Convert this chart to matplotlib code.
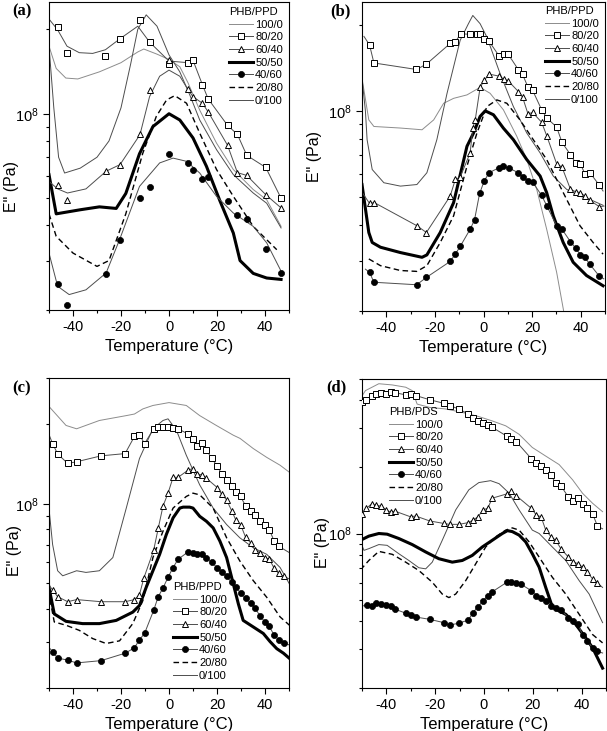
import numpy as np
import matplotlib
matplotlib.use("Agg")
import matplotlib.pyplot as plt
from matplotlib.lines import Line2D
from matplotlib.ticker import FixedLocator, FixedFormatter, LogLocator, NullFormatter, MultipleLocator

plt.rcParams['font.family'] = ['Liberation Sans', 'DejaVu Sans']
plt.rcParams['axes.unicode_minus'] = False

# temperatures in degC, E'' in units of 1e8 Pa

# ---- panel (a) ----
a100_t = [-50, -47, -43, -38, -29, -20, -13, -10.5, -5, 0, 4.5, 7.9, 12.8, 19.8, 26.8, 35.1, 40.7, 46.7]
a100_e = [1.74, 1.45, 1.34, 1.33, 1.41, 1.52, 1.66, 1.70, 1.63, 1.56, 1.47, 1.29, 1.03, 0.786, 0.633, 0.537, 0.494, 0.397]
a80_t = [-50.3, -46.4, -42.5, -37.4, -31.8, -26.5, -20.4, -13, -8.1, 0, 7.9, 10, 13.9, 16.3, 24.4, 28.5, 32.4, 40.3, 46.7]
a80_e = [2.19, 1.99, 1.74, 1.65, 1.64, 1.69, 1.85, 2.05, 1.80, 1.54, 1.52, 1.55, 1.27, 1.13, 0.909, 0.844, 0.711, 0.644, 0.50]
a80m_t = [-46.4, -42.5, -26.5, -20.4, -12.1, -8.1, 0, 7.9, 10, 13.9, 16.3, 24.4, 28.5, 32.4, 40.3, 46.7]
a80m_e = [2.03, 1.65, 1.60, 1.85, 2.15, 1.80, 1.50, 1.52, 1.55, 1.27, 1.13, 0.909, 0.844, 0.711, 0.644, 0.50]
a60_t = [-50, -46.4, -42.3, -34.6, -26.2, -20.4, -12.1, -8.1, -3.9, 0, 4.5, 7.9, 10, 13.9, 16.3, 24.4, 28.5, 32.4, 40.3, 46.7]
a60_e = [0.574, 0.54, 0.522, 0.54, 0.624, 0.659, 0.842, 1.15, 1.36, 1.43, 1.36, 1.22, 1.15, 1.09, 1.016, 0.772, 0.617, 0.603, 0.515, 0.462]
a60m_t = [-46.4, -42.3, -26.2, -20.4, -12.1, -8.1, 0, 7.9, 10, 13.9, 16.3, 24.4, 28.5, 32.4, 40.3, 46.7]
a60m_e = [0.559, 0.494, 0.624, 0.659, 0.844, 1.21, 1.56, 1.22, 1.15, 1.09, 1.016, 0.772, 0.617, 0.603, 0.515, 0.462]
a50_t = [-50, -47, -37, -29, -22, -18, -12.3, -6.7, 0, 4.5, 10, 15.6, 21.2, 26.8, 29.6, 35.1, 40.7, 46.7]
a50_e = [0.607, 0.44, 0.455, 0.466, 0.46, 0.52, 0.72, 0.90, 1.0, 0.95, 0.82, 0.65, 0.49, 0.376, 0.30, 0.27, 0.26, 0.257]
a40_t = [-50, -46.4, -41.6, -34.6, -26.2, -20.6, -12.3, -3.9, 1.7, 7.3, 12.8, 19.8, 26.8, 35.1, 40.7, 46.7]
a40_e = [0.319, 0.243, 0.227, 0.236, 0.271, 0.356, 0.551, 0.668, 0.695, 0.677, 0.615, 0.508, 0.443, 0.397, 0.347, 0.275]
a40m_t = [-46.2, -42.3, -26.2, -20.4, -12.1, -8.1, 0, 7.9, 10, 13.9, 16.3, 24.4, 28.5, 32.4, 40.3, 46.7]
a40m_e = [0.248, 0.209, 0.269, 0.354, 0.50, 0.55, 0.72, 0.668, 0.633, 0.585, 0.597, 0.488, 0.437, 0.423, 0.331, 0.271]
a20_t = [-50, -47, -40, -30, -25, -18, -11, -5.3, -1, 2.4, 7.3, 12.8, 19.8, 26.8, 35.1, 44.9]
a20_e = [0.44, 0.366, 0.319, 0.286, 0.30, 0.44, 0.72, 0.978, 1.12, 1.16, 1.09, 0.853, 0.633, 0.508, 0.397, 0.328]
a0_t = [-50, -48, -46, -43.5, -37, -30, -25, -20, -16, -13, -9.5, -5, 0, 4.5, 8.6, 12.8, 19.8, 26.8, 35.1, 40.7, 46.7]
a0_e = [1.74, 1.05, 0.70, 0.615, 0.64, 0.70, 0.80, 1.05, 1.50, 2.0, 2.25, 2.05, 1.62, 1.41, 1.17, 0.95, 0.745, 0.607, 0.522, 0.48, 0.392]

# ---- panel (b) ----
b100_t = [-50, -48.6, -47.2, -45.1, -34.2, -25.3, -20.5, -16.4, -12.3, -6.8, -1.4, 2.7, 8.2, 13.7, 17.8, 21.9, 26, 30.1, 32.8, 34.2]
b100_e = [1.30, 1.10, 0.93, 0.882, 0.871, 0.859, 0.93, 1.063, 1.106, 1.137, 1.208, 1.152, 1.008, 0.815, 0.676, 0.532, 0.386, 0.273, 0.204, 0.174]
b80_t = [-49.2, -46.9, -45.1, -27.6, -23.5, -13.7, -11.6, -9.4, -5.5, -2.7, -1.4, 0.4, 2.3, 6.3, 8.5, 10.1, 14.4, 16.1, 18.3, 20.2,
         23.9, 26.1, 30.1, 32.3, 35.8, 37.9, 39.9, 41.7, 43.8, 47.6, 49.2]
b80_e = [1.82, 1.70, 1.47, 1.395, 1.456, 1.72, 1.74, 1.86, 1.85, 1.86, 1.85, 1.78, 1.75, 1.56, 1.58, 1.58, 1.39, 1.34, 1.21, 1.18,
         1.01, 0.943, 0.878, 0.776, 0.703, 0.658, 0.651, 0.604, 0.608, 0.551, 0.525]
b60_t = [-50, -46.9, -44.9, -27.4, -23.5, -13.7, -11.6, -9.6, -5.5, -4.4, -3.4, -1.4, 0.4, 2.3, 6.3, 8.5, 10.1, 14.4, 16.1, 18.3,
         20.2, 23.9, 26.1, 30.1, 32.3, 35.8, 37.9, 39.9, 41.7, 43.8, 47.6, 49.6]
b60_e = [0.52, 0.475, 0.478, 0.397, 0.376, 0.504, 0.576, 0.587, 0.713, 0.871, 0.93, 1.208, 1.281, 1.344, 1.323, 1.288, 1.274, 1.167,
         1.115, 0.976, 0.987, 0.913, 0.815, 0.653, 0.636, 0.532, 0.522, 0.518, 0.504, 0.487, 0.463, 0.465]
b50_t = [-50, -47.2, -45.8, -42.4, -34.2, -25.3, -23.3, -17.8, -12.3, -6.8, -4.1, -1.4, 0.7, 4.1, 8.2, 12.3, 17.8, 23.3, 26, 28.7,
         32.8, 36.9, 42.4, 49.2]
b50_e = [0.553, 0.376, 0.347, 0.334, 0.32, 0.308, 0.314, 0.376, 0.478, 0.752, 0.837, 0.956, 1.0, 0.969, 0.87, 0.793, 0.676, 0.592,
         0.518, 0.43, 0.347, 0.296, 0.266, 0.245]
b40_t = [-48.6, -46.9, -45.1, -27.5, -23.5, -13.7, -11.6, -9.6, -5.5, -3.7, -1.6, 0.3, 2.3, 6.2, 8.2, 10.3, 14.4, 16.1, 18.3, 20.2,
         23.9, 26.1, 30.1, 32.3, 35.8, 38.0, 39.9, 41.7, 43.8, 47.6, 49.5]
b40_e = [0.28, 0.273, 0.252, 0.247, 0.262, 0.298, 0.316, 0.336, 0.386, 0.416, 0.515, 0.569, 0.608, 0.632, 0.641, 0.632, 0.608, 0.589,
         0.569, 0.564, 0.507, 0.465, 0.397, 0.386, 0.349, 0.331, 0.314, 0.308, 0.291, 0.265, 0.259]
b20_t = [-47.2, -42.4, -34.2, -27.4, -23.3, -17.8, -12.3, -6.8, -2.7, 1.4, 5.5, 9.6, 15, 20.5, 26, 30.1, 34.2, 39.7, 45.1, 49.2]
b20_e = [0.304, 0.288, 0.277, 0.275, 0.288, 0.347, 0.43, 0.641, 0.837, 1.035, 1.092, 1.063, 0.93, 0.793, 0.676, 0.576, 0.491, 0.397,
         0.347, 0.316]
b0_t = [-50, -48.6, -47.9, -45.8, -41, -34.2, -27.4, -23.3, -19.2, -15, -9.6, -6.2, -4.4, -1.4, 1.4, 6.8, 12.3, 17.8, 23.3, 28.7,
        34.2, 39.7, 45.1, 49.2]
b0_e = [1.30, 1.0, 0.793, 0.624, 0.561, 0.546, 0.553, 0.608, 0.793, 1.152, 1.764, 2.016, 2.154, 2.016, 1.81, 1.351, 1.035, 0.837,
        0.713, 0.592, 0.532, 0.504, 0.485, 0.468]

# ---- panel (c) ----
c100_t = [-50.3, -42.9, -38.5, -29, -17.8, -14.4, -10.9, -6.7, 0, 7.2, 12.8, 19.8, 26.8, 29.6, 35.1, 40.7, 46.3, 50]
c100_e = [2.356, 1.982, 1.925, 2.07, 2.16, 2.19, 2.29, 2.36, 2.42, 2.36, 2.16, 1.98, 1.82, 1.77, 1.62, 1.50, 1.40, 1.32]
c80_t = [-50.3, -48.5, -46.4, -42.2, -38.5, -28.3, -18.3, -14.4, -12.3, -10.2, -6.4, -4.5, -2.5, -0.4, 1.7, 3.8, 7.9, 9.8, 11.7,
         13.7, 15.6, 17.8, 20.1, 21.9, 24, 26.1, 27.9, 29.8, 31.9, 34, 36, 37.9, 40, 41.8, 43.8, 45.7, 50.2]
c80_e = [1.86, 1.69, 1.546, 1.422, 1.443, 1.52, 1.55, 1.80, 1.83, 1.69, 1.925, 1.95, 1.96, 1.95, 1.94, 1.925, 1.84, 1.766, 1.66,
         1.70, 1.60, 1.485, 1.39, 1.30, 1.23, 1.17, 1.113, 1.066, 0.983, 0.936, 0.909, 0.858, 0.829, 0.798, 0.722, 0.69, 0.652]
c60_t = [-50.3, -48.5, -46.4, -42.2, -38.5, -28.3, -18.3, -14.4, -12.3, -10.5, -6.4, -4.5, -2.5, -0.4, 1.7, 3.8, 7.9, 9.8, 11.7,
         13.7, 15.6, 20.1, 21.9, 24, 26.1, 27.9, 29.8, 31.9, 34, 36, 37.9, 40, 41.8, 43.8, 45.7, 47.9, 50.2]
c60_e = [0.496, 0.471, 0.444, 0.425, 0.433, 0.425, 0.425, 0.433, 0.452, 0.522, 0.666, 0.806, 0.98, 1.097, 1.26, 1.26, 1.34, 1.36,
         1.30, 1.285, 1.249, 1.152, 1.087, 1.035, 0.941, 0.866, 0.834, 0.747, 0.711, 0.666, 0.653, 0.625, 0.616, 0.570, 0.544, 0.53, 0.518]
c50_t = [-50.3, -47.8, -42.9, -36, -29, -22, -15.1, -12.3, -9.5, -6.7, -3.9, -1.1, 1.7, 4.5, 5.9, 8.6, 10, 12.8, 15.6, 18.4, 21.2,
         24, 26.8, 28.9, 30.9, 35.1, 39.3, 42.1, 44.9, 47.7, 50.2]
c50_e = [0.496, 0.382, 0.358, 0.351, 0.351, 0.361, 0.388, 0.411, 0.482, 0.557, 0.643, 0.765, 0.884, 0.963, 0.971, 0.971, 0.963,
         0.896, 0.858, 0.81, 0.722, 0.625, 0.496, 0.417, 0.361, 0.341, 0.322, 0.30, 0.282, 0.271, 0.259]
c40_t = [-50.3, -48.5, -46.4, -42.2, -38.5, -28.3, -18.3, -14.4, -12.3, -10.2, -6.4, -4.5, -2.5, -0.4, 1.7, 3.8, 7.9, 9.8, 11.7,
         13.7, 15.6, 17.8, 20.1, 21.9, 24, 26.1, 27.9, 29.8, 31.9, 34, 36, 37.9, 40, 41.8, 43.8, 45.7, 47.9, 50.2]
c40_e = [0.287, 0.275, 0.26, 0.255, 0.249, 0.254, 0.271, 0.284, 0.305, 0.322, 0.394, 0.444, 0.479, 0.526, 0.573, 0.616, 0.656,
         0.649, 0.647, 0.647, 0.621, 0.602, 0.57, 0.553, 0.53, 0.503, 0.482, 0.459, 0.439, 0.42, 0.401, 0.375, 0.356, 0.343, 0.317,
         0.305, 0.297, 0.291]
c20_t = [-50.3, -47.8, -42.9, -37.4, -31.8, -26.2, -20.6, -15.1, -10.9, -6.7, -2.5, 1.7, 7.2, 10, 12.8, 18.4, 24, 29.5, 35.1, 40.7,
         46.3, 50.2]
c20_e = [0.468, 0.356, 0.346, 0.331, 0.308, 0.295, 0.302, 0.351, 0.429, 0.625, 0.787, 0.963, 1.066, 1.097, 1.081, 0.963, 0.743,
         0.607, 0.511, 0.442, 0.372, 0.346]
c0_t = [-50.3, -48.5, -46.4, -44.3, -38.5, -34.6, -29, -23.4, -17.8, -12.3, -6.7, -2.5, -0.4, 3.1, 7.2, 12.8, 18.4, 24, 29.5, 35.1,
        40.7, 46.3, 50.2]
c0_e = [1.02, 0.701, 0.557, 0.533, 0.557, 0.549, 0.557, 0.625, 0.963, 1.485, 1.925, 2.07, 2.10, 1.90, 1.528, 1.179, 0.963, 0.834,
        0.743, 0.681, 0.643, 0.573, 0.496]

# ---- panel (d) ----
d100_t = [-50.6, -48.6, -43.1, -37.6, -32.1, -29.4, -27.4, -22.3, -15.7, -8.9, -2.1, 3.4, 8.9, 14.4, 19.8, 25.3, 30.8, 36.3, 40.4,
          44.5, 48.6]
d100_e = [4.09, 4.43, 4.76, 4.70, 4.59, 4.43, 3.85, 3.72, 3.66, 3.53, 3.38, 3.23, 3.07, 2.81, 2.45, 2.24, 2.05, 1.75, 1.52, 1.37, 1.255]
d80_t = [-50.6, -49.9, -48.2, -46.1, -44.2, -42.1, -40.1, -38.3, -36.3, -32.1, -30.1, -28, -22.3, -16.4, -14.1, -10.3, -6.4, -4.5,
         -2.5, -0.3, 1.5, 3.4, 9.3, 11.2, 13.3, 19.4, 21.5, 23.4, 25.3, 27.5, 29.4, 31.5, 34.6, 36.5, 38.6, 40.4, 42.4, 44.5, 46.5, 48.6]
d80_e = [3.86, 3.92, 4.03, 4.21, 4.28, 4.33, 4.27, 4.36, 4.33, 4.24, 4.26, 4.21, 4.03, 3.88, 3.79, 3.66, 3.47, 3.32, 3.24, 3.15,
         3.09, 3.02, 2.76, 2.69, 2.60, 2.18, 2.09, 2.02, 1.93, 1.83, 1.69, 1.645, 1.46, 1.40, 1.445, 1.356, 1.30, 1.23, 1.08, 1.05]
d60_t = [-50.6, -49.9, -48.2, -46.1, -44.2, -42.1, -40.1, -38.3, -36.3, -30.1, -28, -22.3, -16.4, -14.1, -10.3, -6.4, -4.5, -2.5,
         -0.3, 1.5, 3.4, 9.3, 11.2, 13.3, 19.4, 21.5, 23.4, 25.3, 27.5, 29.4, 31.5, 34.6, 36.5, 38.6, 40.4, 42.4, 44.5, 46.5, 48.6]
d60_e = [1.21, 1.225, 1.30, 1.36, 1.34, 1.33, 1.28, 1.25, 1.26, 1.19, 1.20, 1.14, 1.11, 1.10, 1.10, 1.12, 1.15, 1.19, 1.28, 1.30,
         1.445, 1.51, 1.55, 1.48, 1.30, 1.21, 1.19, 1.036, 0.966, 0.932, 0.854, 0.782, 0.745, 0.729, 0.704, 0.668, 0.623, 0.597, 0.57]
d50_t = [-50.6, -47.2, -43.1, -39.7, -34.9, -29.4, -23.9, -18.5, -13, -8.9, -4.8, -0.7, 3.4, 7.5, 9.6, 11.6, 14.4, 17.1, 19.8, 22.6,
         25.3, 28.0, 30.8, 33.5, 37.6, 41.7, 44.5, 48.6]
d50_e = [0.932, 0.973, 1.0, 0.993, 0.949, 0.891, 0.825, 0.769, 0.742, 0.755, 0.796, 0.869, 0.932, 1.0, 1.03, 1.02, 0.983, 0.916,
         0.81, 0.704, 0.57, 0.466, 0.446, 0.431, 0.388, 0.337, 0.304, 0.246]
d40_t = [-49.9, -47.9, -46.1, -44.2, -42.1, -40.1, -38.3, -36.3, -32.1, -30.1, -28, -22.3, -16.4, -14.1, -10.3, -6.4, -4.5, -2.5,
         -0.3, 1.5, 3.4, 9.3, 11.2, 13.3, 15, 19.4, 21.5, 23.4, 25.3, 27.5, 29.4, 31.5, 34.6, 36.5, 38.6, 40.4, 42.4, 44.5, 46.5, 48.6]
d40_e = [0.47, 0.474, 0.468, 0.486, 0.479, 0.474, 0.47, 0.454, 0.436, 0.428, 0.419, 0.409, 0.395, 0.385, 0.393, 0.406, 0.439, 0.466,
         0.496, 0.523, 0.545, 0.601, 0.601, 0.597, 0.591, 0.551, 0.521, 0.51, 0.496, 0.471, 0.46, 0.452, 0.416, 0.402, 0.388, 0.347,
         0.326, 0.304, 0.293, 0.288]
d20_t = [-50.6, -47.2, -43.1, -37.6, -32.1, -26.7, -21.2, -17.1, -14.4, -11.6, -7.5, -3.4, 0.7, 4.8, 8.9, 11.6, 14.4, 18.5, 22.6,
         28, 33.5, 39, 44.5, 48.6]
d20_e = [0.685, 0.755, 0.83, 0.805, 0.742, 0.68, 0.602, 0.532, 0.513, 0.532, 0.612, 0.729, 0.869, 0.966, 1.036, 1.06, 1.036, 0.916,
         0.782, 0.634, 0.532, 0.431, 0.349, 0.32]
d0_t = [-50.6, -49.2, -47.2, -43.1, -39.7, -34.9, -30.8, -26.7, -23.9, -21.2, -17.1, -11.6, -6.2, -2.1, 2.7, 6.2, 10.3, 14.4, 19.8,
        22.6, 28, 33.5, 39, 43.1, 48.6]
d0_e = [0.916, 0.839, 0.854, 0.891, 0.884, 0.81, 0.755, 0.70, 0.692, 0.742, 0.932, 1.278, 1.577, 1.70, 1.734, 1.68, 1.522, 1.278,
        1.036, 1.0, 0.869, 0.755, 0.612, 0.532, 0.395]

ratios = ['100/0', '80/20', '60/40', '50/50', '40/60', '20/80', '0/100']
styles = {
    '100/0': dict(color='0.55', lw=0.7),
    '80/20': dict(color='0.3', lw=0.7, marker='s', mfc='white', mec='black', ms=4.6, mew=0.7),
    '60/40': dict(color='0.3', lw=0.7, marker='^', mfc='white', mec='black', ms=5.0, mew=0.7),
    '50/50': dict(color='black', lw=2.2),
    '40/60': dict(color='0.3', lw=0.7, marker='o', mfc='black', mec='black', ms=4.4, mew=0.5),
    '20/80': dict(color='black', lw=1.0, ls=(0, (4, 2.5))),
    '0/100': dict(color='0.3', lw=0.7),
}

W, H = 607, 731
fig = plt.figure(figsize=(W / 100, H / 100), dpi=100)


def add_ax(l, t, r, b):
    return fig.add_axes([l / W, 1 - b / H, (r - l) / W, (b - t) / H])


def line_only(ax, key, t, e):
    st = {k: v for k, v in styles[key].items() if k not in ('marker', 'mfc', 'mec', 'ms', 'mew')}
    ax.plot(t, np.array(e) * 1e8, zorder=2, **st)


def marks(ax, key, t, e):
    st = styles[key]
    ax.plot(t, np.array(e) * 1e8, ls='none', marker=st['marker'], mfc=st['mfc'], mec=st['mec'],
            ms=st['ms'], mew=st['mew'], zorder=3)


def setup(ax, ylim, ylab_xy, title, leg_xy, letter, letter_xy):
    ax.set_yscale('log')
    ax.set_xlim(-50, 50)
    ax.set_ylim(ylim[0] * 1e8, ylim[1] * 1e8)
    ax.xaxis.set_major_locator(MultipleLocator(20))
    ax.xaxis.set_minor_locator(MultipleLocator(10))
    ax.yaxis.set_major_locator(FixedLocator([1e8]))
    ax.yaxis.set_major_formatter(FixedFormatter([r'$\mathregular{10^8}$']))
    ax.yaxis.set_minor_locator(LogLocator(base=10, subs=np.arange(2, 10)))
    ax.yaxis.set_minor_formatter(NullFormatter())
    ax.tick_params(which='both', direction='out', width=0.8, labelsize=10.5, top=False, right=False)
    ax.tick_params(which='major', length=4)
    ax.tick_params(which='minor', length=2.5)
    for s in ax.spines.values():
        s.set_linewidth(0.8)
    ax.set_xlabel('Temperature (\u00b0C)', fontsize=12, labelpad=3)
    ax.set_ylabel('E" (Pa)', fontsize=11.5)
    ax.yaxis.set_label_coords(*ylab_xy)
    handles = [Line2D([], [], **styles[k]) for k in ratios]
    ax.legend(handles, ratios, title=title, loc='upper left',
              bbox_to_anchor=(leg_xy[0] / W, 1 - leg_xy[1] / H), bbox_transform=fig.transFigure,
              frameon=False, fontsize=8, title_fontsize=8, alignment='left', borderpad=0,
              borderaxespad=0, handlelength=2.2, handletextpad=0.15, labelspacing=0.24, numpoints=1)
    fig.text(letter_xy[0] / W, 1 - letter_xy[1] / H, letter, family='Liberation Serif', weight='bold',
             fontsize=12, ha='center', va='center')


# (a)
ax = add_ax(49, 2, 289, 310)
line_only(ax, '100/0', a100_t, a100_e)
line_only(ax, '0/100', a0_t, a0_e)
line_only(ax, '20/80', a20_t, a20_e)
line_only(ax, '50/50', a50_t, a50_e)
line_only(ax, '80/20', a80_t, a80_e)
line_only(ax, '60/40', a60_t, a60_e)
line_only(ax, '40/60', a40_t, a40_e)
marks(ax, '80/20', a80m_t, a80m_e)
marks(ax, '60/40', a60m_t, a60m_e)
marks(ax, '40/60', a40m_t, a40m_e)
setup(ax, (0.2, 2.5), (-0.125, 0.40), 'PHB/PPD', (229, 7), '(a)', (22, 11))

panels = [
    ((362, 2, 605, 311), (0.2, 2.4), (-0.165, 0.50), 'PHB/PPD', (545, 6), '(b)', (340, 11),
     [('100/0', b100_t, b100_e), ('0/100', b0_t, b0_e), ('20/80', b20_t, b20_e), ('50/50', b50_t, b50_e),
      ('80/20', b80_t, b80_e), ('60/40', b60_t, b60_e), ('40/60', b40_t, b40_e)]),
    ((49, 378, 289, 688), (0.2, 3.0), (-0.113, 0.445), 'PHB/PPD', (173, 582), '(c)', (22, 388),
     [('100/0', c100_t, c100_e), ('0/100', c0_t, c0_e), ('20/80', c20_t, c20_e), ('50/50', c50_t, c50_e),
      ('80/20', c80_t, c80_e), ('60/40', c60_t, c60_e), ('40/60', c40_t, c40_e)]),
    ((362, 379, 606, 688), (0.2, 5.0), (-0.131, 0.47), 'PHB/PDS', (389, 407), '(d)', (336, 387),
     [('100/0', d100_t, d100_e), ('0/100', d0_t, d0_e), ('20/80', d20_t, d20_e), ('50/50', d50_t, d50_e),
      ('80/20', d80_t, d80_e), ('60/40', d60_t, d60_e), ('40/60', d40_t, d40_e)]),
]

for box, ylim, ylab, title, leg, letter, lxy, series in panels:
    ax = add_ax(*box)
    for key, t, e in series:
        line_only(ax, key, t, e)
        if 'marker' in styles[key]:
            marks(ax, key, t[1:-1], e[1:-1])
    setup(ax, ylim, ylab, title, leg, letter, lxy)

fig.savefig('out.png', dpi=100)
